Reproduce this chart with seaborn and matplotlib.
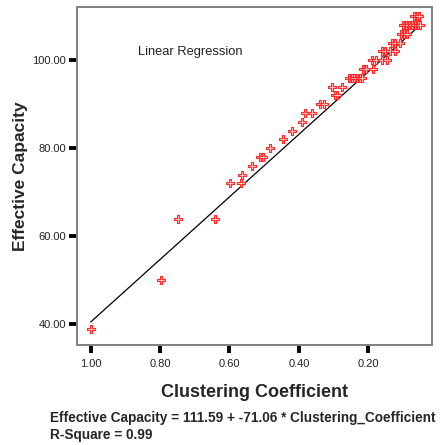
import matplotlib
matplotlib.use("Agg")
import matplotlib.pyplot as plt
import seaborn as sns
import pandas as pd

# Data
clustering = [1.00, 0.797, 0.748, 0.642, 0.599, 0.568, 0.563, 0.534, 0.512, 0.504,
              0.484, 0.446, 0.420, 0.392, 0.382, 0.361, 0.339, 0.329, 0.304, 0.296,
              0.289, 0.277,
              0.255, 0.248, 0.240, 0.232, 0.225, 0.218,
              0.214, 0.207, 0.186,
              0.190, 0.178, 0.161, 0.147,
              0.161, 0.152, 0.137, 0.123,
              0.133, 0.123, 0.109,
              0.106, 0.097, 0.088,
              0.100, 0.091, 0.083, 0.074, 0.065, 0.057, 0.051,
              0.068, 0.061, 0.054]
capacity = [39, 50, 64, 64, 72, 72, 74, 76, 78, 78,
            80, 82, 84, 86, 88, 88, 90, 90, 94, 92,
            92, 94,
            96, 96, 96, 96, 96, 96,
            98, 98, 98,
            100, 100, 100, 100,
            102, 102, 102, 102,
            104, 104, 104,
            106, 106, 106,
            108, 108, 108, 108, 108, 108, 108,
            110, 110, 110]
intercept = 111.59
slope = -71.06
x_ticks = [1.00, 0.80, 0.60, 0.40, 0.20]
y_ticks = [40, 60, 80, 100]

df = pd.DataFrame({"Clustering Coefficient": clustering, "Effective Capacity": capacity})
xs = [max(clustering), min(clustering)]
fit = pd.DataFrame({"x": xs, "y": [intercept + slope * v for v in xs]})

sns.set_style("white")
plt.rcParams["font.family"] = ["Liberation Sans", "DejaVu Sans"]

fig = plt.figure(figsize=(4.44, 4.45), dpi=100)
ax = fig.add_axes([77 / 444, 1 - 345 / 445, (432 - 77) / 444, (345 - 7) / 445])

sns.lineplot(data=fit, x="x", y="y", ax=ax, color="black", linewidth=0.9)
sns.scatterplot(data=df, x="Clustering Coefficient", y="Effective Capacity", ax=ax,
                marker="P", s=34, facecolor="#ffc8c8", edgecolor="#ff2a2a",
                linewidth=0.8, zorder=3)

ax.set_xlim(1.0395, 0.0164)
ax.set_ylim(35.3, 112.1)
ax.set_xticks(x_ticks)
ax.set_xticklabels([f"{v:.2f}" for v in x_ticks])
ax.set_yticks(y_ticks)
ax.set_yticklabels([f"{v:.2f}" for v in y_ticks])
ax.tick_params(axis="both", direction="out", length=6, width=2.8, color="black",
               labelsize=8, labelcolor="#222222", bottom=True, left=True)
ax.tick_params(axis="x", pad=4)
ax.tick_params(axis="y", pad=2)
for sp in ax.spines.values():
    sp.set_color("#808080")
    sp.set_linewidth(1.4)

ax.set_xlabel("Clustering Coefficient", fontsize=13, fontweight="bold", labelpad=11)
ax.set_ylabel("Effective Capacity", fontsize=12.5, fontweight="bold", labelpad=3)

ax.text(0.864, 101.9, "Linear Regression", fontsize=9.3, va="center", ha="left",
        color="#222222")

fig.text(50 / 444, 1 - 418 / 445, "Effective Capacity = 111.59 + -71.06 * Clustering_Coefficient",
         fontsize=9.8, fontweight="bold", va="center", ha="left")
fig.text(50 / 444, 1 - 435 / 445, "R-Square = 0.99",
         fontsize=9.8, fontweight="bold", va="center", ha="left")

fig.savefig("out.png", dpi=100)
